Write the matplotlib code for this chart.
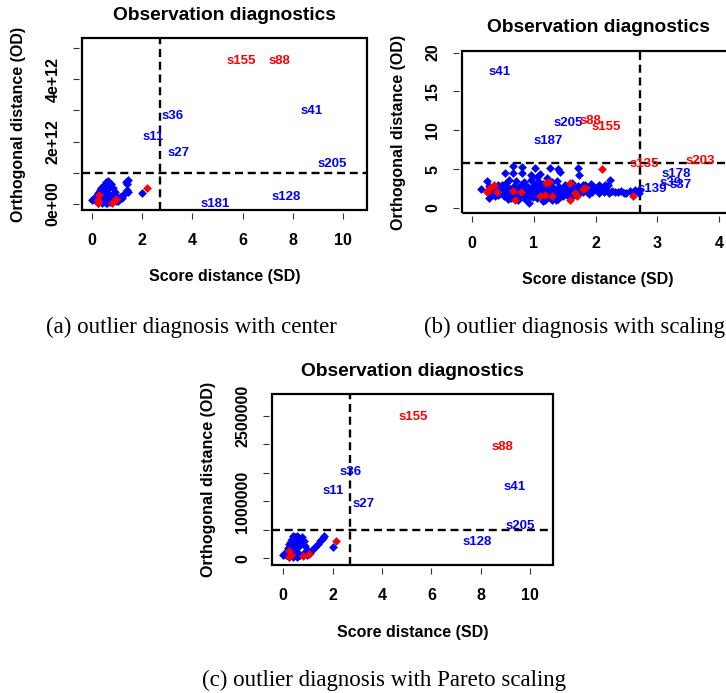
import matplotlib
matplotlib.use("Agg")
import matplotlib.pyplot as plt
from matplotlib.patches import Rectangle

plt.rcParams['font.family'] = ['Liberation Sans', 'DejaVu Sans']
plt.rcParams['font.weight'] = 'bold'

BLUE = (0, 0, 1)
RED = (1, 0, 0)

# ---------------- panel (a): center ----------------
a_blue_sd = [0.00, 0.05, 0.10, 0.15, 0.20, 0.25, 0.30, 0.30, 0.35, 0.40, 0.40, 0.45, 0.50, 0.50,
             0.55, 0.60, 0.60, 0.65, 0.70, 0.70, 0.75, 0.80, 0.85, 0.90, 0.95, 1.00, 1.05, 1.10,
             1.20, 1.25, 1.30, 1.35, 1.40, 1.45, 1.40, 1.45, 1.35, 0.55, 0.45, 0.35, 0.25, 0.65,
             0.75, 0.60, 2.00, 0.20, 0.50, 0.85, 0.95]
a_blue_od = [0.13, 0.15, 0.12, 0.20, 0.28, 0.35, 0.45, 0.10, 0.52, 0.40, 0.05, 0.58, 0.30, 0.62,
             0.70, 0.48, 0.15, 0.75, 0.55, 0.08, 0.20, 0.30, 0.12, 0.40, 0.25, 0.15, 0.10, 0.22,
             0.20, 0.28, 0.35, 0.40, 0.45, 0.38, 0.65, 0.78, 0.72, 0.02, 0.22, 0.30, 0.05, 0.35,
             0.65, 0.05, 0.35, 0.22, 0.45, 0.50, 0.10]  # x 1e12
a_red_sd = [0.25, 0.22, 0.28, 0.78, 0.95, 2.20]
a_red_od = [0.05, 0.12, 0.30, 0.04, 0.16, 0.50]  # x 1e12
a_lab = ["s155", "s88", "s36", "s11", "s27", "s41", "s205", "s128", "s181"]
a_lab_sd = [5.96, 7.46, 3.21, 2.42, 3.44, 8.75, 9.55, 7.73, 4.90]
a_lab_od = [4.58, 4.58, 2.83, 2.16, 1.62, 2.98, 1.27, 0.23, -0.01]  # x 1e12
a_lab_grp = [1, 1, 0, 0, 0, 0, 0, 0, 0]
a_cut_sd, a_cut_od = 2.72, 1.0e12

# ---------------- panel (b): scaling ----------------
b_blue_sd = [0.54, 0.66, 0.67, 0.81, 0.81, 1.02, 1.10, 1.27, 1.40, 1.72, 1.74, 1.43, 0.95, 1.05,
             0.24, 0.42, 0.55, 0.72, 0.85, 0.95, 1.08, 1.15, 1.30, 1.38, 1.50, 1.62, 1.80, 1.92,
             2.05, 2.23, 2.15, 0.60, 1.00, 1.22,
             0.15, 0.27, 0.28, 0.30, 0.33, 0.36, 0.40, 0.42, 0.45, 0.48, 0.50, 0.52,
             0.55, 0.57, 0.60, 0.62, 0.64, 0.66, 0.68, 0.70, 0.72, 0.74, 0.76, 0.78, 0.80, 0.82,
             0.84, 0.86, 0.88, 0.90, 0.92, 0.93, 0.95, 0.97, 0.99, 0.58, 0.75, 0.85,
             1.00, 1.02, 1.04, 1.06, 1.08, 1.10, 1.12, 1.14, 1.16, 1.18, 1.20, 1.22, 1.24, 1.26,
             1.28, 1.29, 1.31, 1.33, 1.35, 1.37, 1.39, 1.41, 1.43, 1.45, 1.47, 1.49, 1.05, 1.15,
             1.25, 1.36,
             1.51, 1.53, 1.55, 1.57, 1.60, 1.63, 1.65, 1.68, 1.71, 1.74, 1.77, 1.80, 1.83, 1.86,
             1.89, 1.92, 1.95, 1.98,
             2.02, 2.06, 2.10, 2.14, 2.18, 2.22, 2.27, 2.32, 2.37, 2.42, 2.46, 2.50, 2.55, 2.60,
             2.64, 2.71, 2.71, 2.20, 2.12,
             0.45, 0.52, 0.61, 0.69, 0.77, 0.83, 0.91, 0.98, 1.03, 1.09, 1.17, 1.23, 1.32, 1.40,
             1.46, 1.54, 0.48, 0.57, 0.65, 0.73, 0.87, 0.94, 1.01, 1.13, 1.19, 1.27, 1.34, 1.44,
             1.52, 1.61, 0.38, 0.63, 0.79, 1.07, 1.21, 1.30, 1.48, 1.58, 0.89, 0.96]
b_blue_od = [4.50, 5.35, 4.50, 5.30, 4.50, 5.10, 4.40, 5.15, 5.00, 5.20, 4.30, 4.60, 4.20, 4.00,
             3.42, 3.00, 3.20, 3.50, 3.30, 3.60, 3.40, 3.10, 3.30, 3.50, 3.00, 3.20, 3.00, 3.10,
             3.00, 3.64, 2.90, 3.60, 3.00, 3.80,
             2.44, 1.28, 2.80, 2.20, 1.90, 2.60, 2.10, 1.70, 2.40, 2.90, 2.00, 1.50,
             2.30, 2.70, 1.90, 2.50, 1.30, 2.10, 2.80, 1.70, 2.30, 2.60, 1.50, 2.00, 2.90, 1.80,
             2.40, 1.20, 2.20, 2.70, 0.64, 1.60, 2.00, 2.50, 1.40, 1.10, 1.00, 3.00,
             2.20, 1.80, 2.90, 1.30, 2.40, 2.00, 2.70, 1.60, 2.20, 1.00, 2.50, 1.90, 2.80, 1.40,
             2.10, 1.07, 2.60, 1.70, 2.30, 2.00, 1.20, 2.70, 1.80, 2.40, 1.50, 2.10, 3.20, 0.90,
             3.30, 1.00,
             2.60, 1.90, 2.30, 1.40, 2.00, 2.60, 1.70, 2.20, 2.80, 1.90, 2.40, 2.00, 2.90, 2.20,
             1.80, 2.50, 2.10, 2.70,
             2.30, 1.90, 2.60, 2.00, 2.30, 1.90, 2.20, 2.00, 2.00, 2.20, 1.90, 1.93, 2.20, 2.10,
             2.30, 2.35, 1.93, 2.90, 2.70,
             1.90, 2.20, 1.60, 2.40, 1.90, 2.10, 1.80, 2.30, 1.60, 2.60, 1.80, 2.30, 1.90, 2.20,
             1.70, 2.10, 2.60, 2.00, 2.20, 1.80, 1.60, 2.20, 2.50, 2.40, 2.00, 1.90, 2.50, 2.00,
             2.30, 1.60, 1.50, 1.60, 2.10, 2.10, 1.50, 2.40, 2.60, 2.30, 1.90, 1.50]
b_red_sd = [0.24, 0.25, 0.35, 0.40, 0.67, 0.70, 0.80, 1.19, 1.24, 1.20, 1.30, 1.58, 1.59, 1.67,
            1.70, 1.83, 1.80, 2.10, 2.60, 0.30, 1.10]
b_red_od = [2.13, 2.00, 3.00, 2.10, 2.17, 1.07, 2.00, 1.70, 3.40, 3.20, 1.60, 3.20, 1.07, 1.93,
            1.50, 2.57, 2.40, 5.00, 1.60, 2.60, 1.50]
b_lab = ["s41", "s205", "s88", "s155", "s187", "s135", "s203", "s178", "s39", "s37", "s139"]
b_lab_sd = [0.45, 1.56, 1.91, 2.17, 1.24, 2.79, 3.69, 3.31, 3.21, 3.37, 2.91]
b_lab_od = [17.56, 10.90, 11.20, 10.40, 8.65, 5.70, 6.04, 4.37, 3.20, 2.90, 2.44]
b_lab_grp = [0, 0, 1, 1, 0, 1, 1, 0, 0, 0, 0]
b_cut_sd, b_cut_od = 2.72, 5.78

# ---------------- panel (c): Pareto scaling ----------------
c_blue_sd = [0.00, 0.05, 0.10, 0.15, 0.20, 0.25, 0.30, 0.30, 0.35, 0.40, 0.40, 0.45, 0.50, 0.50,
             0.55, 0.60, 0.60, 0.65, 0.70, 0.70, 0.75, 0.80, 0.85, 0.90, 0.95, 1.00, 1.10, 1.20,
             1.30, 1.40, 1.50, 1.55, 1.60, 1.65, 0.55, 0.45, 0.35, 0.25, 0.65, 0.75, 0.60, 2.02,
             0.20, 0.50, 0.85, 0.95, 0.40, 0.60]
c_blue_od = [0.06, 0.08, 0.05, 0.12, 0.18, 0.25, 0.30, 0.05, 0.34, 0.28, 0.03, 0.37, 0.20, 0.38,
             0.40, 0.32, 0.10, 0.36, 0.33, 0.05, 0.30, 0.25, 0.10, 0.22, 0.15, 0.12, 0.10, 0.16,
             0.20, 0.25, 0.30, 0.33, 0.36, 0.39, 0.02, 0.15, 0.22, 0.03, 0.25, 0.37, 0.04, 0.20,
             0.15, 0.30, 0.30, 0.05, 0.40, 0.20]  # x 1e6
c_red_sd = [0.25, 0.22, 0.80, 1.05, 2.15, 0.30]
c_red_od = [0.02, 0.12, 0.04, 0.07, 0.30, 0.05]  # x 1e6
c_lab = ["s155", "s88", "s36", "s11", "s27", "s41", "s205", "s128"]
c_lab_sd = [5.27, 8.88, 2.74, 2.03, 3.24, 9.35, 9.59, 7.86]
c_lab_od = [2.49, 1.95, 1.52, 1.18, 0.956, 1.26, 0.574, 0.28]  # x 1e6
c_lab_grp = [1, 1, 0, 0, 0, 0, 0, 0]
c_cut_sd, c_cut_od = 2.70, 0.5e6

W, H = 726, 693
fig = plt.figure(figsize=(W / 100, H / 100), dpi=100)


def panel(box, xlim, ylim, xticks, yticks, ylabels, bsd, bod, rsd, rod,
          lab, lsd, lod, grp, cut_sd, cut_od, scale):
    l, t, r, b = box
    ax = fig.add_axes([l / W, 1 - b / H, (r - l) / W, (b - t) / H])
    ax.scatter(bsd, [v * scale for v in bod], marker='D', s=20, color=BLUE, lw=0, zorder=3)
    ax.scatter(rsd, [v * scale for v in rod], marker='D', s=20, color=RED, lw=0, zorder=3)
    for name, x, y, g in zip(lab, lsd, lod, grp):
        ax.text(x, y * scale, name, color=RED if g else BLUE, fontsize=9.5,
                ha='center', va='center', zorder=4)
    ax.axvline(cut_sd, color='black', lw=1.7, dashes=(3.4, 2), zorder=2)
    ax.axhline(cut_od, color='black', lw=1.7, dashes=(3.4, 2), zorder=2)
    ax.set_xlim(*xlim)
    ax.set_ylim(*ylim)
    ax.set_xticks(xticks)
    ax.set_xticklabels([str(v) for v in xticks])
    ax.set_yticks(yticks)
    ax.set_yticklabels(ylabels)
    for s in ['top', 'right']:
        ax.spines[s].set_visible(False)
    for s in ['left', 'bottom']:
        ax.spines[s].set_position(('outward', 2))
        ax.spines[s].set_color('none')
    ax.tick_params(length=4.5, width=0.8, color='#333333', labelsize=11.5)
    ax.tick_params(axis='x', pad=10)
    ax.tick_params(axis='y', pad=9, labelrotation=90)
    for lb in ax.get_yticklabels():
        lb.set_va('center')
    ax.add_patch(Rectangle((0, 0), 1, 1, transform=ax.transAxes, fill=False,
                           lw=1.6, ec='black', clip_on=False, zorder=5))
    hpx = b - t
    wpx = r - l
    ax.text(0.5, 1 + 23 / hpx, "Observation diagnostics", transform=ax.transAxes,
            ha='center', va='center', fontsize=13.8)
    ax.text(0.5, -67 / hpx, "Score distance (SD)", transform=ax.transAxes,
            ha='center', va='center', fontsize=11.5)
    ax.text(-63 / wpx, 0.5, "Orthogonal distance (OD)", transform=ax.transAxes,
            ha='center', va='center', rotation=90, fontsize=11.5)
    return ax


panel((82, 38, 367, 210), (-0.4, 10.95), (-0.19e12, 5.32e12), [0, 2, 4, 6, 8, 10],
      [0, 1e12, 2e12, 3e12, 4e12, 5e12], ["0e+00", "", "2e+12", "", "4e+12", ""],
      a_blue_sd, a_blue_od, a_red_sd, a_red_od, a_lab, a_lab_sd, a_lab_od, a_lab_grp,
      a_cut_sd, a_cut_od, 1e12)

panel((462, 51, 734, 213), (-0.16, 4.24), (-0.64, 20.2), [0, 1, 2, 3, 4],
      [0, 5, 10, 15, 20], ["0", "5", "10", "15", "20"],
      b_blue_sd, b_blue_od, b_red_sd, b_red_od, b_lab, b_lab_sd, b_lab_od, b_lab_grp,
      b_cut_sd, b_cut_od, 1.0)

panel((272, 394, 553, 565), (-0.45, 10.92), (-0.118e6, 2.887e6), [0, 2, 4, 6, 8, 10],
      [0, 5e5, 1e6, 1.5e6, 2e6, 2.5e6], ["0", "", "1000000", "", "", "2500000"],
      c_blue_sd, c_blue_od, c_red_sd, c_red_od, c_lab, c_lab_sd, c_lab_od, c_lab_grp,
      c_cut_sd, c_cut_od, 1e6)

cap = dict(family='Liberation Serif', weight='normal', fontsize=16.5, va='center')
fig.text(191 / W, 1 - 327 / H, "(a) outlier diagnosis with center", ha='center', **cap)
fig.text(424 / W, 1 - 327 / H, "(b) outlier diagnosis with scaling", ha='left', **cap)
fig.text(384 / W, 1 - 680 / H, "(c) outlier diagnosis with Pareto scaling", ha='center', **cap)

fig.savefig("out.png", dpi=100)
